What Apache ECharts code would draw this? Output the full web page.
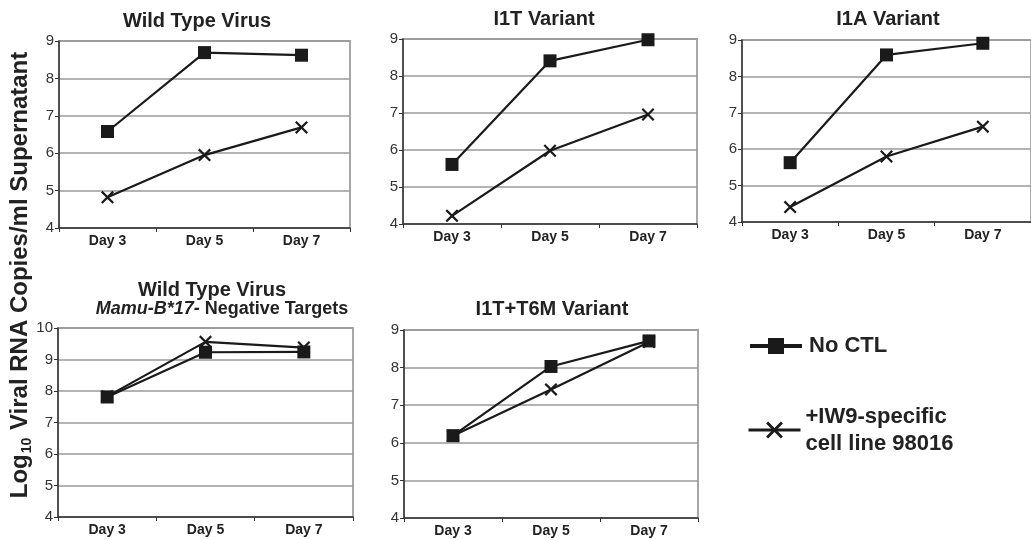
<!DOCTYPE html>
<html><head><meta charset="utf-8">
<script src="https://cdn.jsdelivr.net/npm/echarts@6/dist/echarts.min.js"></script>
<style>html,body{margin:0;padding:0;background:#fff}#c{width:1031px;height:540px}</style>
</head><body><div id="c"></div>
<script>
// ---- data ----
const days = ['Day 3', 'Day 5', 'Day 7'];
const seriesNames = ['No CTL', '+IW9-specific cell line 98016'];
const wtNoCtl = [6.58, 8.69, 8.62];
const wtIw9 = [4.82, 5.95, 6.69];
const i1tNoCtl = [5.61, 8.41, 8.98];
const i1tIw9 = [4.22, 5.98, 6.96];
const i1aNoCtl = [5.63, 8.59, 8.91];
const i1aIw9 = [4.41, 5.80, 6.62];
const negNoCtl = [7.81, 9.23, 9.24];
const negIw9 = [7.83, 9.56, 9.38];
const t6mNoCtl = [6.19, 8.03, 8.71];
const t6mIw9 = [6.19, 7.42, 8.68];
const yMax = [9, 9, 9, 10, 9];
const yMin = [4, 4, 4, 4, 4];

// ---- layout ----
const grids = [
  {left: 59, top: 41, width: 291, height: 187},
  {left: 403, top: 39, width: 294, height: 185},
  {left: 742, top: 40, width: 289, height: 182},
  {left: 58, top: 328, width: 295, height: 189},
  {left: 404, top: 330, width: 294, height: 188}
];
const panelData = [
  [wtNoCtl, wtIw9], [i1tNoCtl, i1tIw9], [i1aNoCtl, i1aIw9], [negNoCtl, negIw9], [t6mNoCtl, t6mIw9]
];
const FONT = '"Liberation Sans", Arial, sans-serif';
const INK = '#1a1a1a';
const xSym = 'path://M0,1.2L1.2,0L5,3.8L8.8,0L10,1.2L6.2,5L10,8.8L8.8,10L5,6.2L1.2,10L0,8.8L3.8,5Z';

const xAxes = [], yAxes = [], series = [];
grids.forEach((g, i) => {
  g.show = true; g.borderColor = '#a8a8a8'; g.borderWidth = 2; g.backgroundColor = 'transparent';
  xAxes.push({
    type: 'category', gridIndex: i, data: days, boundaryGap: true,
    axisLine: {lineStyle: {color: '#333', width: 1.5}},
    axisTick: {show: true, length: 4, lineStyle: {color: '#333', width: 1}},
    axisLabel: {fontFamily: FONT, fontSize: 14, fontWeight: 'bold', color: '#222', margin: 6},
    splitLine: {show: false}
  });
  yAxes.push({
    type: 'value', gridIndex: i, min: yMin[i], max: yMax[i], interval: 1,
    axisLine: {show: true, lineStyle: {color: '#333', width: 1.5}},
    axisTick: {show: true, length: 4, lineStyle: {color: '#333'}},
    axisLabel: {fontFamily: FONT, fontSize: 15, color: '#333', margin: 5},
    splitLine: {show: true, lineStyle: {color: '#9a9a9a', width: 1.5}}
  });
  const [a, b] = panelData[i];
  series.push({
    type: 'line', name: seriesNames[0], xAxisIndex: i, yAxisIndex: i, data: a,
    symbol: 'rect', symbolSize: 13, color: INK,
    lineStyle: {color: INK, width: 2.2}, itemStyle: {color: INK}, silent: true, z: 3
  });
  series.push({
    type: 'line', name: seriesNames[1], xAxisIndex: i, yAxisIndex: i, data: b,
    symbol: xSym, symbolSize: 13, color: INK,
    lineStyle: {color: INK, width: 2.2}, itemStyle: {color: INK}, silent: true, z: 4
  });
});

const titleStyle = {fontFamily: FONT, fontSize: 20, fontWeight: 'bold', fill: '#222', align: 'center', verticalAlign: 'middle'};
const graphics = [
  {type: 'text', x: 197, y: 21, style: Object.assign({text: 'Wild Type Virus'}, titleStyle)},
  {type: 'text', x: 544, y: 19, style: Object.assign({text: 'I1T Variant'}, titleStyle)},
  {type: 'text', x: 888, y: 19, style: Object.assign({text: 'I1A Variant'}, titleStyle)},
  {type: 'text', x: 212, y: 290, style: Object.assign({text: 'Wild Type Virus'}, titleStyle)},
  {type: 'text', x: 222, y: 309, style: Object.assign({}, titleStyle, {
    text: '{i|Mamu-B*17-}{b| Negative Targets}',
    rich: {i: {fontFamily: FONT, fontSize: 18, fontWeight: 'bold', fontStyle: 'italic', fill: '#222'},
           b: {fontFamily: FONT, fontSize: 18, fontWeight: 'bold', fill: '#222'}}
  })},
  {type: 'text', x: 552, y: 309, style: Object.assign({text: 'I1T+T6M Variant'}, titleStyle)},
  {type: 'text', x: 20, y: 275, rotation: Math.PI / 2, style: {
    text: '{a|Log}{s|10}{a| Viral RNA Copies/ml Supernatant}',
    align: 'center', verticalAlign: 'middle',
    rich: {a: {fontFamily: FONT, fontSize: 24, fontWeight: 'bold', fill: '#222', lineHeight: 29, verticalAlign: 'middle'},
           s: {fontFamily: FONT, fontSize: 14, fontWeight: 'bold', fill: '#222', lineHeight: 29, verticalAlign: 'bottom', padding: [0, 1, 0, 1]}}
  }}
];

const legendText = {fontFamily: FONT, fontSize: 22, fontWeight: 'bold', color: '#222'};
const option = {
  animation: false,
  backgroundColor: '#fff',
  grid: grids, xAxis: xAxes, yAxis: yAxes, series: series,
  legend: [
    {data: [seriesNames[0]], left: 743, top: 330, itemWidth: 52, itemHeight: 20, selectedMode: false,
     lineStyle: {width: 4, color: INK}, itemStyle: {color: INK}, textStyle: Object.assign({padding: [0, 0, 0, 2]}, legendText)},
    {data: [seriesNames[1]], left: 742, top: 393, itemWidth: 52, itemHeight: 21, selectedMode: false,
     lineStyle: {width: 3, color: INK}, itemStyle: {color: INK},
     formatter: n => n.replace(' cell', '\ncell'),
     textStyle: Object.assign({lineHeight: 27, padding: [10, 0, 0, 0]}, legendText)}
  ],
  graphic: graphics
};
echarts.init(document.getElementById('c')).setOption(option);
</script></body></html>
